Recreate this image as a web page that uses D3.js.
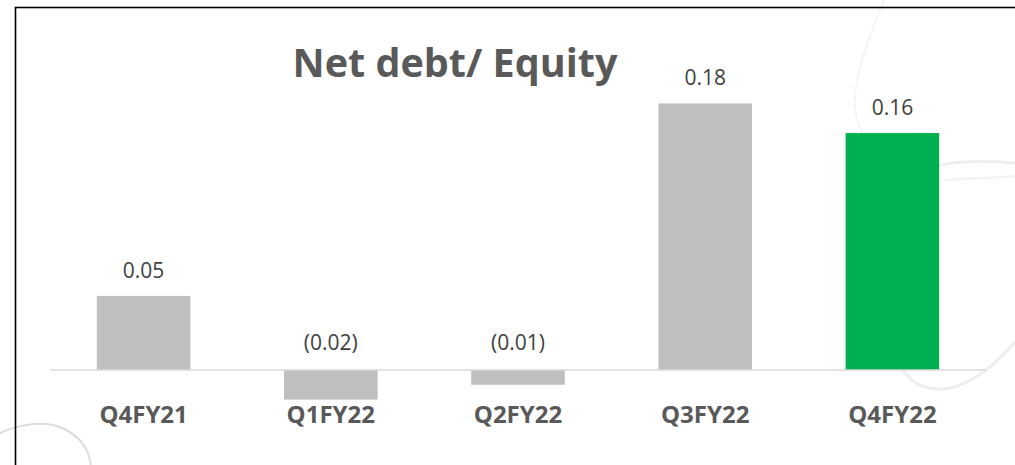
<!DOCTYPE html>
<html>
<head>
<meta charset="utf-8">
<script src="https://cdn.jsdelivr.net/npm/d3@7"></script>
<style>
  html, body { margin: 0; padding: 0; background: #fff; }
  svg { display: block; }
  text { font-family: "Open Sans", "DejaVu Sans", sans-serif; }
</style>
</head>
<body>
<div id="chart"></div>
<script>
// data
var quarters = ['Q4FY21', 'Q1FY22', 'Q2FY22', 'Q3FY22', 'Q4FY22'];
var netDebtEquity = [0.05, -0.02, -0.01, 0.18, 0.16];
var highlightQuarter = 'Q4FY22';
var chartTitle = 'Net debt/ Equity';

var W = 1015, H = 465;

var svg = d3.select('#chart').append('svg')
    .attr('width', W)
    .attr('height', H);

// faint background swooshes (slide decoration)
var deco = svg.append('g')
    .attr('fill', 'none')
    .attr('stroke-linecap', 'round');
deco.append('path')
    .attr('d', 'M0,433 C20,424 45,420 62,428 C80,436 90,450 91,468')
    .attr('stroke', '#dcdcdc').attr('stroke-width', 2);
deco.append('path')
    .attr('d', 'M903,370 C912,385 930,392 950,388 C975,382 995,365 1015,342')
    .attr('stroke', '#ededed').attr('stroke-width', 3);
deco.append('path')
    .attr('d', 'M940,165 C965,160 990,161 1015,163')
    .attr('stroke', '#efefef').attr('stroke-width', 3);
deco.append('path')
    .attr('d', 'M945,180 C970,178 995,178 1015,176')
    .attr('stroke', '#f2f2f2').attr('stroke-width', 2);
deco.append('path')
    .attr('d', 'M884,0 C870,35 852,80 855,110 C857,122 860,128 862,132')
    .attr('stroke', '#f3f3f3').attr('stroke-width', 2)
    .attr('stroke-dasharray', '6,3');

// frame
svg.append('rect')
    .attr('x', 15.5)
    .attr('y', 7.5)
    .attr('width', W + 10)
    .attr('height', H + 10)
    .attr('fill', 'none')
    .attr('stroke', '#000')
    .attr('stroke-width', 1.6);

var x = d3.scaleBand()
    .domain(quarters)
    .range([50, 986])
    .paddingInner(0.5)
    .paddingOuter(0.25);

var y = d3.scaleLinear()
    .domain([-0.04, 0.2])
    .range([429.2, 73.8]);

var rows = quarters.map(function (q, i) { return {q: q, v: netDebtEquity[i]}; });

// bars
svg.append('g').selectAll('rect')
    .data(rows)
    .enter().append('rect')
    .attr('x', function (d) { return x(d.q); })
    .attr('width', x.bandwidth())
    .attr('y', function (d) { return y(Math.max(0, d.v)); })
    .attr('height', function (d) { return Math.abs(y(d.v) - y(0)); })
    .attr('fill', function (d) { return d.q == highlightQuarter ? '#00b050' : '#bfbfbf'; });

// baseline
svg.append('line')
    .attr('x1', 50).attr('x2', 986)
    .attr('y1', y(0)).attr('y2', y(0))
    .attr('stroke', '#d9d9d9')
    .attr('stroke-width', 1.5);

// category axis, bold labels
var xAxis = svg.append('g')
    .attr('transform', 'translate(0,' + y(0) + ')')
    .call(d3.axisBottom(x).tickSize(0).tickPadding(0));
xAxis.select('.domain').remove();
xAxis.selectAll('text')
    .attr('dy', null)
    .attr('y', 53)
    .attr('fill', '#595959')
    .attr('font-size', '24px')
    .attr('font-weight', 'bold')
    .attr('font-family', '"Open Sans", sans-serif');

// value labels
var fmt = d3.format('.2f');
svg.append('g').selectAll('text')
    .data(rows)
    .enter().append('text')
    .attr('x', function (d) { return x(d.q) + x.bandwidth() / 2; })
    .attr('y', function (d) { return d.v >= 0 ? y(d.v) - 18 : y(0) - 20; })
    .attr('text-anchor', 'middle')
    .attr('font-size', '21px')
    .attr('fill', '#404040')
    .text(function (d) { return d.v < 0 ? '(' + fmt(-d.v) + ')' : fmt(d.v); });

// title
svg.append('text')
    .attr('x', 455)
    .attr('y', 77)
    .attr('text-anchor', 'middle')
    .attr('font-size', '40px')
    .attr('font-weight', 'bold')
    .attr('fill', '#595959')
    .attr('textLength', 325)
    .attr('lengthAdjust', 'spacingAndGlyphs')
    .text(chartTitle);
</script>
</body>
</html>
